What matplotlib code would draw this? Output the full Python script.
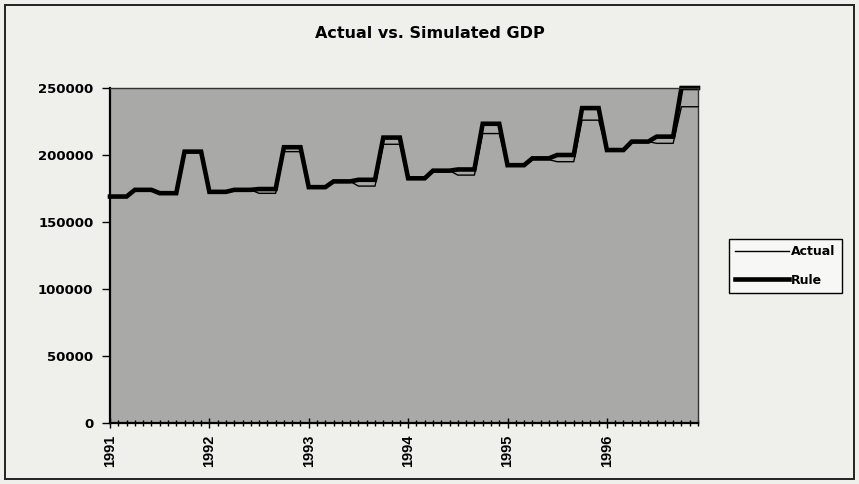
import matplotlib
matplotlib.use("Agg")
import matplotlib.pyplot as plt
import numpy as np
from matplotlib.patches import Rectangle
from matplotlib.ticker import MultipleLocator, FixedLocator, FuncFormatter

# Monthly GDP, Jan 1991 .. Dec 1996 (quarterly figures held for each month)
actual = [
    169000, 169000, 169000, 174000, 174000, 174000, 171500, 171500, 171500, 202500, 202500, 202500,  # 1991
    173300, 173300, 173300, 174000, 174000, 174000, 171400, 171400, 171400, 202500, 202500, 202500,  # 1992
    176000, 176000, 176000, 180300, 180300, 180300, 176800, 176800, 176800, 208000, 208000, 208000,  # 1993
    182600, 182600, 182600, 188300, 188300, 188300, 185000, 185000, 185000, 216000, 216000, 216000,  # 1994
    192400, 192400, 192400, 196500, 196500, 196500, 195000, 195000, 195000, 226000, 226000, 226000,  # 1995
    203700, 203700, 203700, 210000, 210000, 210000, 208700, 208700, 208700, 236000, 236000, 236000,  # 1996
]
rule = [
    169000, 169000, 169000, 174000, 174000, 174000, 171500, 171500, 171500, 202500, 202500, 202500,  # 1991
    172500, 172500, 172500, 174000, 174000, 174000, 174600, 174600, 174600, 205800, 205800, 205800,  # 1992
    176000, 176000, 176000, 180300, 180300, 180300, 181500, 181500, 181500, 213000, 213000, 213000,  # 1993
    182600, 182600, 182600, 188300, 188300, 188300, 189200, 189200, 189200, 223300, 223300, 223300,  # 1994
    192400, 192400, 192400, 197500, 197500, 197500, 200000, 200000, 200000, 235000, 235000, 235000,  # 1995
    203700, 203700, 203700, 210000, 210000, 210000, 213700, 213700, 213700, 250000, 250000, 250000,  # 1996
]
year_labels = ["1991", "1992", "1993", "1994", "1995", "1996"]
y_ticks = [0, 50000, 100000, 150000, 200000, 250000]

W, H = 859, 484
fig = plt.figure(figsize=(W / 100, H / 100), dpi=100)
fig.patch.set_facecolor("#efefec")

# chart-area border
fig.patches.append(Rectangle((5 / W, 5 / H), 849 / W, 474 / H, transform=fig.transFigure,
                             fill=False, edgecolor="#222222", linewidth=1.4))

left, right, top, bottom = 110, 698, 88, 423
ax = fig.add_axes([left / W, 1 - bottom / H, (right - left) / W, (bottom - top) / H])
ax.set_facecolor("#a9a9a7")

x = np.arange(len(actual))
ax.plot(x, actual, color="black", linewidth=1.0, label="Actual", clip_on=False, zorder=3)
ax.plot(x, rule, color="black", linewidth=3.3, label="Rule", clip_on=False, zorder=2,
        solid_joinstyle="miter")

ax.set_xlim(0, len(actual) - 1)
ax.set_ylim(0, 250000)

ax.xaxis.set_major_locator(FixedLocator(np.arange(0, 72, 12)))
ax.xaxis.set_minor_locator(MultipleLocator(1))
ax.set_xticklabels(year_labels, rotation=90, fontfamily="Liberation Sans",
                   fontweight="bold", fontsize=10.5)
ax.tick_params(axis="x", which="major", direction="inout", length=7, width=1, pad=5)
ax.tick_params(axis="x", which="minor", direction="inout", length=5, width=1)

ax.set_yticks(y_ticks)
ax.yaxis.set_major_formatter(FuncFormatter(lambda v, p: f"{int(v)}"))
for lab in ax.get_yticklabels():
    lab.set_fontfamily("DejaVu Sans")
    lab.set_fontweight("bold")
    lab.set_fontsize(9.5)
ax.tick_params(axis="y", which="major", direction="out", length=6, width=1, pad=6)

for side in ("left", "bottom"):
    ax.spines[side].set_linewidth(1.6)
    ax.spines[side].set_color("black")
for side in ("top", "right"):
    ax.spines[side].set_linewidth(1.0)
    ax.spines[side].set_color("#333333")

fig.text(430 / W, 1 - 34 / H, "Actual vs. Simulated GDP", ha="center", va="center",
         fontfamily="DejaVu Sans", fontweight="bold", fontsize=11.5)

leg = ax.legend(loc="center left", bbox_to_anchor=(729 / W, 1 - 266 / H),
                bbox_transform=fig.transFigure, frameon=True, fancybox=False,
                edgecolor="black", facecolor="#f7f7f5", framealpha=1,
                handlelength=4.3, handletextpad=0.15, labelspacing=1.2,
                borderpad=0.5, borderaxespad=0,
                prop={"family": "DejaVu Sans", "weight": "bold", "size": 9})
leg.get_frame().set_linewidth(1.0)

fig.savefig("out.png", dpi=100, facecolor=fig.get_facecolor())
